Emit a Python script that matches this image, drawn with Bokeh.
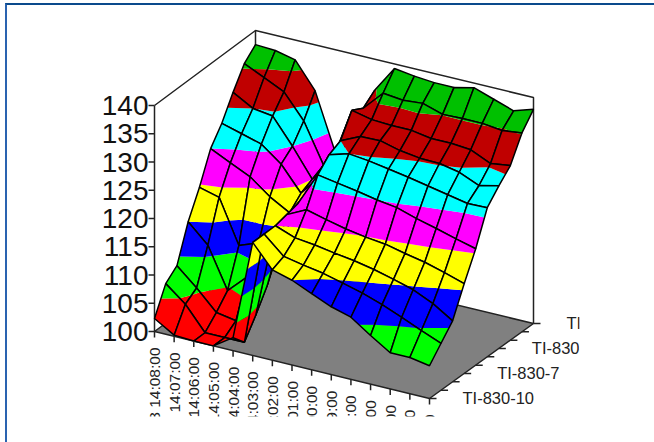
from bokeh.plotting import figure
from bokeh.models import Range1d, ColumnDataSource
from bokeh.embed import file_html
from bokeh.resources import INLINE
from bokeh.core.properties import value

# --- data: temperature per time step, across sensors TI-830-10 ... TI-830-1
time_labels = ["3 14:08:00", "14:07:00", "14:06:00", "14:05:00", "14:04:00", "14:03:00", "14:02:00", "14:01:00",
               "14:00:00", "13:59:00", "13:58:00", "13:57:00", "13:56:00", "13:55:00", "13:54:00"]
sensor_labels = ["TI-830-10", "TI-830-7", "TI-830-4", "TI-830-1"]
sensor_label_pos = [0, 3, 6, 9]
z_ticks = [100, 105, 110, 115, 120, 125, 130, 135, 140]

t1408 = [102.3, 107.0, 108.7, 115.0, 119.6, 125.0, 128.0, 132.0, 135.6, 137.5]
t1407 = [100.2, 104.2, 105.6, 111.7, 118.7, 123.3, 127.0, 130.0, 134.0, 137.3]
t1406 = [100.0, 100.0, 102.1, 104.5, 111.0, 121.7, 126.0, 129.5, 132.3, 136.5]
t1405 = [100.0, 100.0, 101.5, 107.8, 112.3, 119.0, 123.3, 125.0, 128.0, 131.9]
t1404 = [102.3, 100.0, 103.3, 107.0, 111.9, 117.0, 119.0, 120.0, 121.0, 122.0]
t1403 = [120.0, 120.0, 120.0, 120.5, 121.0, 122.0, 123.0, 124.0, 125.0, 127.0]
t1402 = [116.0, 116.9, 118.7, 122.2, 126.9, 129.0, 130.0, 133.9, 132.8, 134.5]
t1401 = [115.0, 116.2, 118.3, 121.3, 126.3, 130.0, 131.6, 133.1, 136.3, 139.2]
t1400 = [113.5, 115.6, 117.7, 120.5, 125.7, 129.6, 131.7, 132.9, 135.9, 138.7]
t1359 = [112.0, 114.7, 117.2, 119.9, 125.0, 129.0, 130.8, 132.9, 136.2, 138.4]
t1358 = [111.0, 113.8, 116.5, 119.5, 124.5, 128.4, 130.3, 132.3, 135.1, 138.4]
t1357 = [108.6, 112.6, 115.6, 118.7, 123.4, 127.7, 130.2, 132.3, 135.2, 139.2]
t1356 = [106.4, 111.2, 114.6, 118.0, 122.5, 127.0, 129.5, 132.0, 135.2, 138.0]
t1355 = [106.4, 109.7, 113.0, 117.0, 121.5, 126.3, 128.0, 130.4, 134.8, 136.8]
t1354 = [105.8, 108.3, 110.8, 115.9, 120.6, 126.4, 128.8, 130.9, 135.2, 137.9]
surface = [t1408, t1407, t1406, t1405, t1404, t1403, t1402, t1401, t1400, t1359, t1358, t1357, t1356, t1355, t1354]

band_edges = [100, 105, 110, 115, 120, 125, 130, 135, 140]
band_colors = ["#ff0000", "#00ff00", "#0000ff", "#ffff00", "#ff00ff", "#00ffff", "#c00000", "#00c000"]
floor_color = "#808080"
axis_color = "#222222"
nt, ns = len(surface), len(surface[0])

# --- oblique projection of the box
ox, oy = 154.0, 331.0
tx, ty = 275.0 / (nt - 1), 67.0 / (nt - 1)
sy = -75.0 / (ns - 1)
zs = 5.65

def proj(i, j, z):
    sx = (101.0 + 3.0 * i / (nt - 1)) / (ns - 1)
    return ox + tx * i + sx * j, oy + ty * i + sy * j - zs * (z - 100)

def clip(poly, lo, hi):
    def half(pts, keep, limit):
        out = []
        for a, b in zip(pts, pts[1:] + pts[:1]):
            ka, kb = keep(a[2]), keep(b[2])
            if ka:
                out.append(a)
            if ka != kb:
                f = (limit - a[2]) / (b[2] - a[2])
                out.append((a[0] + f * (b[0] - a[0]), a[1] + f * (b[1] - a[1]), limit))
        return out
    res = half(poly, lambda z: z >= lo, lo)
    if res:
        res = half(res, lambda z: z <= hi, hi)
    return res

xs, ys, fills, falpha, lalpha = [], [], [], [], []
for i in range(nt - 1):
    for j in range(ns - 2, -1, -1):
        quad = [(i, j, surface[i][j]), (i + 1, j, surface[i + 1][j]),
                (i + 1, j + 1, surface[i + 1][j + 1]), (i, j + 1, surface[i][j + 1])]
        for b, col in enumerate(band_colors):
            part = clip(quad, band_edges[b], band_edges[b + 1])
            if len(part) >= 3:
                pts = [proj(*v) for v in part]
                xs.append([q[0] for q in pts]); ys.append([q[1] for q in pts])
                fills.append(col); falpha.append(1.0); lalpha.append(0.0)
        pts = [proj(*v) for v in quad]
        xs.append([q[0] for q in pts]); ys.append([q[1] for q in pts])
        fills.append("#000000"); falpha.append(0.0); lalpha.append(1.0)

p = figure(width=647, height=437, frame_width=572, frame_height=411,
           x_range=Range1d(7, 579), y_range=Range1d(416, 5),
           x_axis_type=None, y_axis_type=None, toolbar_location=None, output_backend="svg",
           min_border_left=0, min_border_top=0, min_border_right=75, min_border_bottom=26)
p.grid.visible = False
p.outline_line_color = None
p.background_fill_color = "#ffffff"
p.border_fill_color = "#ffffff"
p.styles = {"position": "absolute", "left": "5px", "top": "3px",
            "border-top": "2px solid #0a4a8c", "border-left": "2px solid #2a63b0"}

# floor
corners = [proj(0, 0, 100), proj(nt - 1, 0, 100), proj(nt - 1, ns - 1, 100), proj(0, ns - 1, 100)]
p.patch([c[0] for c in corners], [c[1] for c in corners], fill_color=floor_color, line_color=axis_color, line_width=1.5)

# box frame
top = [proj(0, 0, 140), proj(0, ns - 1, 140), proj(nt - 1, ns - 1, 140), proj(nt - 1, ns - 1, 100)]
p.line([c[0] for c in top], [c[1] for c in top], line_color=axis_color, line_width=1.5)
back = [proj(0, ns - 1, 140), proj(0, ns - 1, 100)]
p.line([c[0] for c in back], [c[1] for c in back], line_color=axis_color, line_width=1.5)
left = [proj(0, 0, 100), proj(0, 0, 140)]
p.line([c[0] for c in left], [c[1] for c in left], line_color=axis_color, line_width=1.5)

# surface
src = ColumnDataSource(dict(xs=xs, ys=ys, fc=fills, fa=falpha, la=lalpha))
p.patches("xs", "ys", source=src, fill_color="fc", fill_alpha="fa", line_color="#000000", line_alpha="la", line_width=1.5)

# ticks
zb = [proj(0, 0, z) for z in z_ticks]
p.segment([c[0] - 6 for c in zb], [c[1] for c in zb], [c[0] for c in zb], [c[1] for c in zb], line_color=axis_color, line_width=1.5)
p.text([c[0] - 6 for c in zb], [c[1] for c in zb], text=[str(z) for z in z_ticks], text_align="right", text_baseline="middle",
       text_font=value("Liberation Sans"), text_font_size="28px", text_color="#111111")
tb = [proj(i, 0, 100) for i in range(nt)]
p.segment([c[0] for c in tb], [c[1] for c in tb], [c[0] for c in tb], [c[1] + 6 for c in tb], line_color=axis_color, line_width=1.5)
p.text([c[0] for c in tb], [c[1] + 16 for c in tb], text=time_labels, angle=1.5708, text_align="right", text_baseline="middle",
       text_font=value("Liberation Sans"), text_font_size="15.5px", text_color="#222222")
sb = [proj(nt - 1, j, 100) for j in range(ns)]
p.segment([c[0] for c in sb], [c[1] for c in sb], [c[0] + 7 for c in sb], [c[1] for c in sb], line_color=axis_color, line_width=1.5)
lb = [proj(nt - 1, j, 100) for j in sensor_label_pos]
p.text([c[0] + 33 for c in lb], [c[1] - 1 for c in lb], text=sensor_labels, text_align="left", text_baseline="middle",
       text_font=value("Liberation Sans"), text_font_size="16.5px", text_color="#222222")

open("out.html", "w").write(file_html(p, INLINE))
